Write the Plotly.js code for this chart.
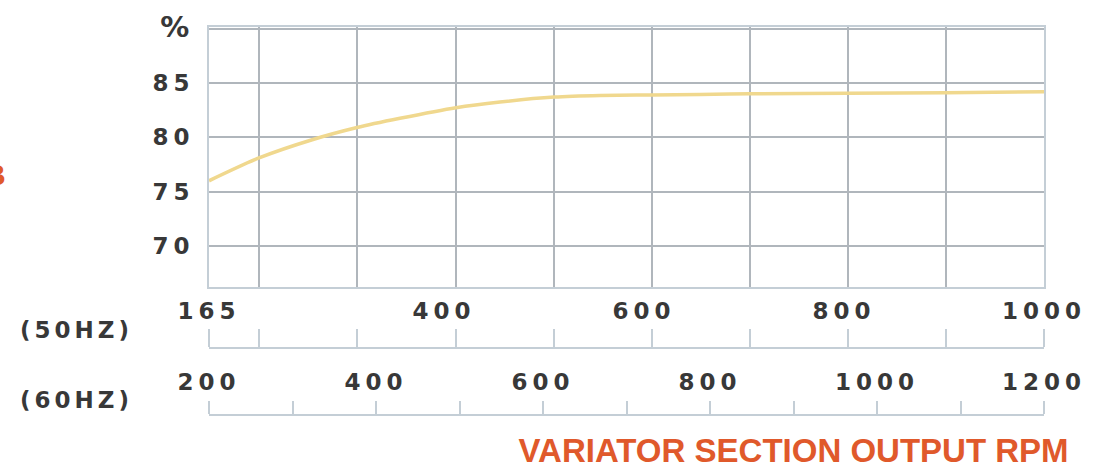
<!DOCTYPE html>
<html>
<head>
<meta charset="utf-8">
<script src="https://cdn.plot.ly/plotly-3.0.1.min.js"></script>
<style>
  html, body { margin: 0; padding: 0; background: #ffffff; }
  #chart { width: 1095px; height: 468px; }
  .ytick text, .x3tick text, .x4tick text { letter-spacing: 5px; }
  .annotation-text { letter-spacing: 4px; }
</style>
</head>
<body>
<div id="chart"></div>
<script>
// Output speed at 50 Hz supply (rpm) and efficiency (%)
var rpm50 = [165, 215, 269, 313, 356, 412, 456, 510, 556, 608, 656, 706, 804, 902, 1000];
var efficiency = [76.0, 78.1, 79.8, 80.9, 81.75, 82.73, 83.25, 83.7, 83.85, 83.9, 83.95, 84.0, 84.05, 84.1, 84.2];

// Axis tick values / labels
var gridRpm50 = [165, 215, 313, 412, 510, 608, 706, 804, 902, 1000];
var labelRpm50 = [165, 400, 600, 800, 1000];
var effTicks = [70, 75, 80, 85, 90];
var effTickText = ['70', '75', '80', '85', '<span style="font-size:29px">%</span>'];
var rpm60Range = [200, 1200];

var GRID = '#b0b6bc';
var BORDER = '#c4ced6';
var TEXT = '#383838';
var tickFont = { family: 'DejaVu Sans', size: 23, color: TEXT, weight: 700 };

var traces = [
  {
    x: rpm50, y: efficiency, xaxis: 'x', yaxis: 'y',
    type: 'scatter', mode: 'lines',
    line: { color: '#f0d88e', width: 3.5, shape: 'spline', smoothing: 0.8 },
    hoverinfo: 'skip', showlegend: false
  },
  { x: [], y: [], xaxis: 'x2', yaxis: 'y', mode: 'none', showlegend: false, hoverinfo: 'skip' },
  { x: [], y: [], xaxis: 'x3', yaxis: 'y', mode: 'none', showlegend: false, hoverinfo: 'skip' },
  { x: [], y: [], xaxis: 'x4', yaxis: 'y', mode: 'none', showlegend: false, hoverinfo: 'skip' }
];

var layout = {
  width: 1095, height: 468,
  margin: { l: 209, r: 51, t: 27, b: 53 },
  paper_bgcolor: '#ffffff', plot_bgcolor: '#ffffff',
  showlegend: false,
  xaxis: {
    range: [rpm50[0], rpm50[rpm50.length - 1]],
    tickmode: 'array', tickvals: gridRpm50, showticklabels: false, ticks: '',
    showgrid: true, gridcolor: GRID, gridwidth: 2, zeroline: false,
    showline: true, mirror: true, linecolor: BORDER, linewidth: 2,
    anchor: 'y', fixedrange: true
  },
  xaxis2: {
    overlaying: 'x', anchor: 'free', side: 'top', position: 0.1727,
    range: [rpm50[0], rpm50[rpm50.length - 1]],
    tickmode: 'array', tickvals: gridRpm50, showticklabels: false,
    ticks: 'outside', ticklen: 18, tickwidth: 2, tickcolor: BORDER,
    showline: true, linecolor: BORDER, linewidth: 2,
    showgrid: false, zeroline: false, fixedrange: true
  },
  xaxis3: {
    overlaying: 'x', anchor: 'free', side: 'top', position: 0.1727,
    range: [rpm50[0], rpm50[rpm50.length - 1]],
    tickmode: 'array', tickvals: labelRpm50, ticktext: labelRpm50.map(String),
    ticks: '', showline: false, showgrid: false, zeroline: false,
    tickfont: tickFont, ticklabelstandoff: 24, fixedrange: true
  },
  xaxis4: {
    overlaying: 'x', anchor: 'free', side: 'top', position: 0,
    range: rpm60Range,
    tickmode: 'linear', tick0: 200, dtick: 200,
    ticks: 'outside', ticklen: 13, tickwidth: 2, tickcolor: BORDER,
    minor: { tick0: 200, dtick: 100, ticks: 'outside', ticklen: 13, tickwidth: 2, tickcolor: BORDER, showgrid: false },
    showline: true, linecolor: BORDER, linewidth: 2,
    showgrid: false, zeroline: false,
    tickfont: tickFont, ticklabelstandoff: 2, fixedrange: true
  },
  yaxis: {
    domain: [0.3299, 1],
    range: [66.23, 90.15],
    tickmode: 'array', tickvals: effTicks, ticktext: effTickText,
    ticks: '', showgrid: true, gridcolor: GRID, gridwidth: 2, zeroline: false,
    showline: true, mirror: true, linecolor: BORDER, linewidth: 2,
    tickfont: tickFont, ticklabelstandoff: 8, fixedrange: true
  },
  title: {
    text: 'VARIATOR SECTION OUTPUT RPM',
    font: { family: 'Liberation Sans', size: 33, color: '#e0592b', weight: 700 },
    xref: 'container', yref: 'container',
    x: 0.7247, xanchor: 'center', y: 0.038, yanchor: 'middle'
  },
  annotations: [
    { text: '(50HZ)', xref: 'paper', yref: 'paper', x: -0.159, y: 0.219,
      xanchor: 'center', yanchor: 'middle', showarrow: false,
      font: { family: 'DejaVu Sans', size: 23, color: TEXT, weight: 700 } },
    { text: '(60HZ)', xref: 'paper', yref: 'paper', x: -0.159, y: 0.0387,
      xanchor: 'center', yanchor: 'middle', showarrow: false,
      font: { family: 'DejaVu Sans', size: 23, color: TEXT, weight: 700 } },
    { text: 'B', xref: 'paper', yref: 'paper', x: -0.236, y: 0.6186,
      xanchor: 'right', yanchor: 'middle', showarrow: false,
      font: { family: 'Liberation Sans', size: 30, color: '#e0592b', weight: 700 } }
  ]
};

Plotly.newPlot('chart', traces, layout, { displayModeBar: false, staticPlot: true });
</script>
</body>
</html>
